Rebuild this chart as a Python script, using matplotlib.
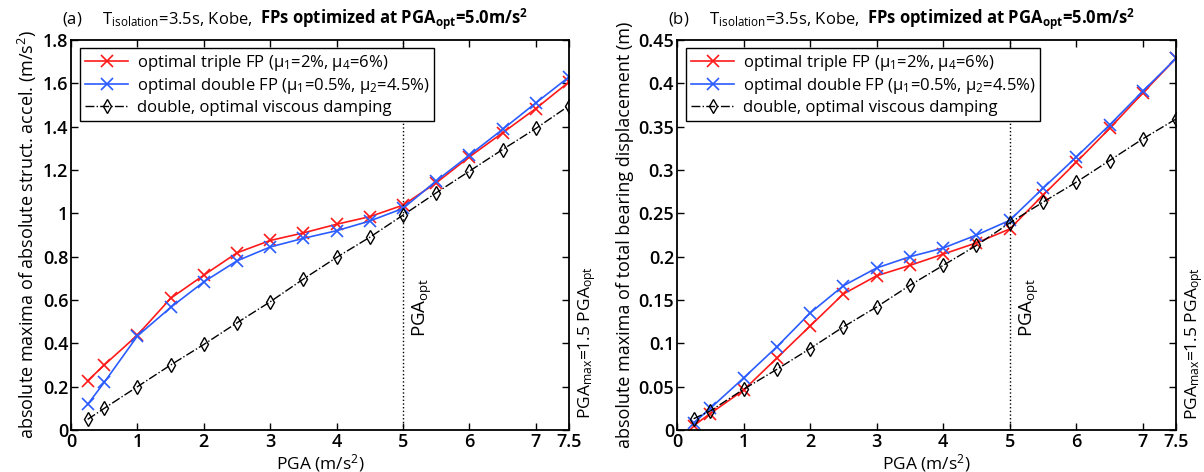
import numpy as np
import matplotlib
matplotlib.use('Agg')
import matplotlib.pyplot as plt
from matplotlib.offsetbox import TextArea, HPacker, AnchoredOffsetbox

plt.rcParams['font.family'] = ['Open Sans', 'DejaVu Sans']
plt.rcParams['mathtext.fontset'] = 'custom'
plt.rcParams['mathtext.rm'] = 'Open Sans'
plt.rcParams['mathtext.it'] = 'Open Sans'
plt.rcParams['mathtext.bf'] = 'Open Sans:bold'
plt.rcParams['font.size'] = 12

# data
pga = [0.25, 0.5, 1, 1.5, 2, 2.5, 3, 3.5, 4, 4.5, 5, 5.5, 6, 6.5, 7, 7.5]

acc_triple = [0.227, 0.30, 0.438, 0.608, 0.715, 0.818, 0.875, 0.91, 0.95, 0.985, 1.038, 1.141, 1.261, 1.372, 1.484, 1.607]
acc_double = [0.118, 0.22, 0.434, 0.566, 0.684, 0.781, 0.845, 0.885, 0.92, 0.965, 1.023, 1.15, 1.269, 1.388, 1.51, 1.63]
acc_visc = [0.049, 0.10, 0.20, 0.30, 0.395, 0.495, 0.592, 0.697, 0.797, 0.89, 0.992, 1.095, 1.195, 1.295, 1.392, 1.497]

disp_triple = [0.005, 0.019, 0.046, 0.083, 0.12, 0.157, 0.178, 0.190, 0.203, 0.216, 0.232, 0.271, 0.309, 0.348, 0.389, 0.429]
disp_double = [0.008, 0.025, 0.060, 0.096, 0.135, 0.1665, 0.187, 0.200, 0.210, 0.225, 0.242, 0.279, 0.315, 0.352, 0.391, 0.429]
disp_visc = [0.013, 0.022, 0.047, 0.070, 0.094, 0.119, 0.142, 0.167, 0.190, 0.213, 0.239, 0.263, 0.286, 0.311, 0.336, 0.359]

xticks = [0, 1, 2, 3, 4, 5, 6, 7, 7.5]
xticklabels = ['0', '1', '2', '3', '4', '5', '6', '7', '7.5']
yticks_a = [0, 0.2, 0.4, 0.6, 0.8, 1, 1.2, 1.4, 1.6, 1.8]
yticklabels_a = ['0', '0.2', '0.4', '0.6', '0.8', '1', '1.2', '1.4', '1.6', '1.8']
yticks_b = [0, 0.05, 0.1, 0.15, 0.2, 0.25, 0.3, 0.35, 0.4, 0.45]
yticklabels_b = ['0', '0.05', '0.1', '0.15', '0.2', '0.25', '0.3', '0.35', '0.4', '0.45']

lbl_triple = r'optimal triple FP ($\mu_1$=2%, $\mu_4$=6%)'
lbl_double = r'optimal double FP ($\mu_1$=0.5%, $\mu_2$=4.5%)'
lbl_visc = 'double, optimal viscous damping'

RED = '#ff1a1a'
BLUE = '#2b5cff'

fig = plt.figure(figsize=(12.04, 4.72), dpi=100)
ax1 = fig.add_axes([0.059, 0.089, 0.4136, 0.826])
ax2 = fig.add_axes([0.5623, 0.089, 0.4145, 0.826])


def draw(ax, y_tr, y_do, y_vi, ymax, yticks, yticklabels, ylabel, letter, opt_y, max_y):
    ax.plot(pga, y_tr, color=RED, marker='x', ms=8, mew=1.2, lw=1.2, label=lbl_triple)
    ax.plot(pga, y_do, color=BLUE, marker='x', ms=8, mew=1.2, lw=1.2, label=lbl_double)
    ax.plot(pga, y_vi, color='k', marker='d', ms=7.5, mfc='none', mew=1.0, lw=1.0,
            ls='-.', label=lbl_visc)
    ax.axvline(5, color='k', ls=':', lw=1.0)
    ax.set_xlim(0, 7.5)
    ax.set_ylim(0, ymax)
    ax.set_xticks(xticks)
    ax.set_xticklabels(xticklabels)
    ax.set_yticks(yticks)
    ax.set_yticklabels(yticklabels)
    ax.tick_params(direction='in', top=True, right=True, length=5, width=1,
                   labelsize=13, pad=2)
    for lab in ax.get_xticklabels() + ax.get_yticklabels():
        lab.set_fontweight('semibold')
    for s in ax.spines.values():
        s.set_linewidth(1.3)
    ax.set_xlabel(r'PGA (m/s$^2$)', fontsize=12.5, labelpad=1)
    ax.set_ylabel(ylabel, fontsize=13, labelpad=3)

    # title: normal part + bold part
    normal = TextArea(letter + r'     T$_{\rm isolation}$=3.5s, Kobe,',
                      textprops=dict(fontsize=12))
    bold = TextArea(r'FPs optimized at PGA$_{\bf opt}$=5.0m/s$^{\bf 2}$',
                    textprops=dict(fontsize=12, fontweight='bold'))
    row = HPacker(children=[normal, bold], sep=5, pad=0, align='baseline')
    box = AnchoredOffsetbox(loc='lower left', child=row, pad=0, borderpad=0, frameon=False,
                            bbox_to_anchor=(-0.018, 1.02), bbox_transform=ax.transAxes)
    ax.add_artist(box)

    ax.text(5.12, opt_y, r'PGA$_{\rm opt}$', rotation=90, ha='left', va='bottom', fontsize=13.5)
    ax.text(7.6, max_y, r'PGA$_{\rm max}$=1.5 PGA$_{\rm opt}$', rotation=90,
            ha='left', va='bottom', fontsize=12.5, clip_on=False)
    leg = ax.legend(loc='upper left', bbox_to_anchor=(0.018, 0.98), borderaxespad=0,
                    fontsize=12, fancybox=False, edgecolor='k', framealpha=1,
                    handlelength=2.6, borderpad=0.3, labelspacing=0.2, handletextpad=0.5)
    leg.get_frame().set_linewidth(1.0)


draw(ax1, acc_triple, acc_double, acc_visc, 1.8, yticks_a, yticklabels_a,
     r'absolute maxima of absolute struct. accel. (m/s$^2$)', '(a)', 0.43, 0.05)
draw(ax2, disp_triple, disp_double, disp_visc, 0.45, yticks_b, yticklabels_b,
     'absolute maxima of total bearing displacement (m)', '(b)', 0.107, 0.012)

fig.savefig('out.png', dpi=100)
